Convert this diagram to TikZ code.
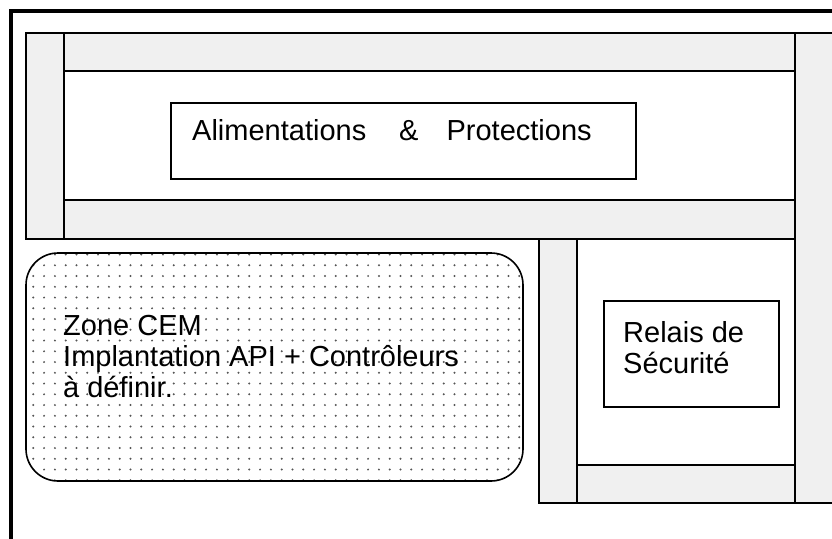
\documentclass[tikz,border=0pt]{standalone}
\usepackage{fontspec}
\setmainfont{Liberation Sans}
\definecolor{stripgray}{HTML}{F0F0F0}
\definecolor{dotgray}{HTML}{555555}
\begin{document}
\begin{tikzpicture}[x=1pt,y=-1pt,
  strip/.style={fill=stripgray, draw=black, line width=1.6pt},
  box/.style={draw=black, line width=1.6pt, fill=white, inner sep=0pt},
  lbl/.style={font=\fontsize{29}{31}\selectfont, anchor=base west, align=left, inner sep=0pt}]
\useasboundingbox (0,0) rectangle (832,538);
\clip (0,0) rectangle (832,538);
% outer frame
\draw[line width=3.3pt] (11,600) -- (11,11) -- (900,11);
% strips
\draw[strip] (26,33) rectangle (64,239);
\draw[strip] (64,33) rectangle (795,71);
\draw[strip] (64,200) rectangle (795,239);
\draw[strip] (795,33) rectangle (860,503);
\draw[strip] (539,239) rectangle (577,503);
\draw[strip] (577,465) rectangle (795,503);
% CEM zone
\begin{scope}
  \clip[rounded corners=32pt] (26,253) rectangle (523,481);
  \foreach \i in {0,...,46} \foreach \j in {0,...,21}
    \fill[dotgray] (33.3+10.8*\i, 254.5+10.75*\j) circle (1.1pt);
\end{scope}
\draw[line width=1.6pt, rounded corners=32pt] (26,253) rectangle (523,481);
\node[lbl] (zone) at (63,397) {Zone CEM\\Implantation API + Contrôleurs\\à définir.};
% boxes
\node[box, anchor=north west, minimum width=465pt, minimum height=76pt] (alimbox) at (170,102) {};
\node[lbl] (alim) at (192,140) {Alimentations\hspace{33pt}\&\hspace{28pt}Protections};
\node[box, anchor=north west, minimum width=175pt, minimum height=106pt] (relbox) at (603,300) {};
\node[lbl] (rel) at (623,373) {Relais de\\Sécurité};
\end{tikzpicture}
\end{document}
